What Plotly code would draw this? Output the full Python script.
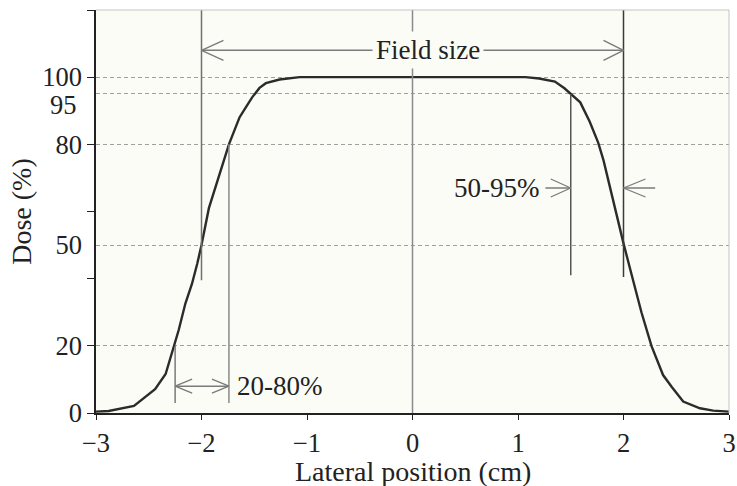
import plotly.graph_objects as go

# Lateral dose profile (relative dose, %)
position_cm = [-3.0, -2.88, -2.64, -2.44, -2.34, -2.26, -2.216, -2.153, -2.09, -2.04,
               -2.0, -1.93, -1.86, -1.8, -1.74, -1.69, -1.64, -1.58, -1.52, -1.45,
               -1.39, -1.26, -1.07, -0.5, 0.0, 0.5, 1.07, 1.2, 1.35, 1.44, 1.52,
               1.59, 1.68, 1.76, 1.81, 1.87, 1.935, 2.0, 2.09, 2.17, 2.265, 2.375,
               2.456, 2.566, 2.725, 2.85, 3.0]
dose_pct = [0.4, 0.6, 2.1, 7.1, 11.6, 20.0, 24.7, 32.6, 38.5, 44.5,
            50.0, 61.0, 68.0, 73.5, 80.0, 84.0, 88.0, 91.0, 94.0, 96.8,
            98.2, 99.3, 100.0, 100.0, 100.0, 100.0, 100.0, 99.6, 98.7, 96.7, 94.6,
            92.5, 86.7, 80.5, 75.3, 67.4, 59.4, 50.5, 39.6, 30.0, 20.0, 11.3,
            7.8, 3.4, 1.4, 0.7, 0.4]

x_ticks = [-3, -2, -1, 0, 1, 2, 3]
y_levels = [0, 20, 50, 80, 95, 100]
y_labels = ["0", "20", "50", "80", "", "100"]
y_marks = [0, 20, 40, 60, 80, 100, 120]

# Reference lines: (x, y_from, y_to, colour)
ref_lines = [
    (0.0, 0, 120, "#8a8a8a"),
    (-2.0, 39.5, 120, "#707070"),
    (2.0, 40.5, 120, "#3a3a3a"),
    (-2.25, 3, 20, "#7a7a7a"),
    (-1.74, 3, 80, "#8a8a8a"),
    (1.5, 41, 95, "#555555"),
]

# Dimension arrows
field_y = 108
field_edges = [-2.0, 2.0]
pen_y = 8
pen_edges = [-2.25, -1.74]
shoulder_y = 67
shoulder_left = [1.26, 1.5]
shoulder_right = [2.0, 2.3]

FONT = "Liberation Serif"
TXT = "#222222"
PLOT_BG = "#fcfcf6"
ARROW = "#7a7a7a"

fig = go.Figure()
fig.add_trace(go.Scatter(x=position_cm, y=dose_pct, mode="lines",
                         line=dict(color="#2b2b2b", width=2.4),
                         hoverinfo="skip", showlegend=False))

shapes = []
for x, y0, y1, c in ref_lines:
    shapes.append(dict(type="line", xref="x", yref="y", x0=x, x1=x, y0=y0, y1=y1,
                       line=dict(color=c, width=1.5), layer="above"))


def shaft(xa, xb, y):
    shapes.append(dict(type="line", xref="x", yref="y", x0=xa, x1=xb, y0=y, y1=y,
                       line=dict(color=ARROW, width=1.5), layer="above"))


def head(x, y, direction, length=20, half=9):
    # open V arrowhead; direction -1 points left, +1 points right
    for s in (-1, 1):
        shapes.append(dict(type="line", xref="x", yref="y",
                           xsizemode="pixel", xanchor=x, x0=0, x1=-direction * length,
                           ysizemode="pixel", yanchor=y, y0=0, y1=s * half,
                           line=dict(color=ARROW, width=1.3), layer="above"))


shaft(field_edges[0], field_edges[1], field_y)
head(field_edges[0], field_y, -1, 22, 10)
head(field_edges[1], field_y, 1, 20, 10)

shaft(pen_edges[0], pen_edges[1], pen_y)
head(pen_edges[0], pen_y, -1, 17, 7)
head(pen_edges[1], pen_y, 1, 17, 7)

shaft(shoulder_left[0], shoulder_left[1], shoulder_y)
head(shoulder_left[1], shoulder_y, 1, 20, 9)
shaft(shoulder_right[0], shoulder_right[1], shoulder_y)
head(shoulder_right[0], shoulder_y, -1, 22, 9)

# frame on the top and right
shapes.append(dict(type="line", xref="paper", yref="paper", x0=0, x1=1, y0=1, y1=1,
                   line=dict(color="#c4c4c4", width=1)))
shapes.append(dict(type="line", xref="paper", yref="paper", x0=1, x1=1, y0=0, y1=1,
                   line=dict(color="#c4c4c4", width=1)))

font = dict(family=FONT, size=27, color=TXT)
tick_font = dict(family=FONT, size=26.5, color=TXT)
title_font = dict(family=FONT, size=28, color=TXT)
annotations = [
    dict(x=0.15, y=field_y, xref="x", yref="y", text="Field size", showarrow=False,
         font=font, bgcolor=PLOT_BG, borderpad=3),
    dict(x=pen_edges[1], y=pen_y, xref="x", yref="y", text="20-80%", showarrow=False,
         font=font, xanchor="left", xshift=6),
    dict(x=shoulder_left[0], y=shoulder_y, xref="x", yref="y", text="50-95%",
         showarrow=False, font=font, xanchor="right", xshift=-4),
    dict(x=0, y=95, xref="paper", yref="y", text="95", showarrow=False, font=tick_font,
         xanchor="right", xshift=-17, yshift=-11),
    # horizontal axis title
    dict(x=0.5, y=0, xref="paper", yref="paper", text="Lateral position (cm)",
         showarrow=False, font=title_font, xanchor="center", yanchor="top",
         yshift=-41),
]

fig.update_layout(
    width=737, height=486,
    margin=dict(l=96, r=8, t=10, b=73, autoexpand=False),
    paper_bgcolor="white", plot_bgcolor=PLOT_BG,
    font=font,
    shapes=shapes, annotations=annotations,
    xaxis=dict(range=[-3, 3], tickvals=x_ticks, ticks="outside", ticklen=5,
               tickcolor="#222", showline=True, linecolor="#222", linewidth=1.5,
               showgrid=False, zeroline=False, tickfont=tick_font, automargin=False),
    yaxis=dict(range=[0, 120], tickvals=y_levels, ticktext=y_labels,
               ticks="outside", ticklen=7, tickcolor="rgba(0,0,0,0)",
               showline=True, linecolor="#222", linewidth=1.5, automargin=False,
               showgrid=True, gridcolor="#a0a0a0", gridwidth=1, griddash="4px,3px",
               zeroline=False, tickfont=tick_font,
               minor=dict(tickvals=y_marks, ticks="outside", ticklen=7,
                          tickcolor="#222", showgrid=False),
               title=dict(text="Dose (%)", font=title_font, standoff=2)),
)

fig.write_html("out.html")
